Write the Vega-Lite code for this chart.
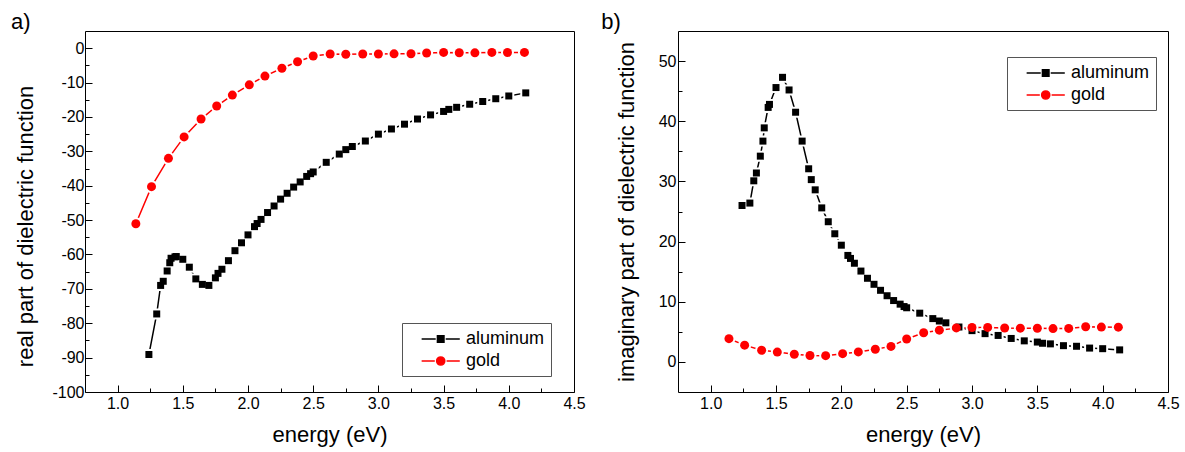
{
  "$schema": "https://vega.github.io/schema/vega-lite/v6.json",
  "padding": {"left": 10, "top": 10, "right": 5, "bottom": 4},
  "data": {"values": [
    {"material": "aluminum", "E": 1.24, "re": -89.1, "im": 26.0},
    {"material": "aluminum", "E": 1.30, "re": -77.3, "im": 26.4},
    {"material": "aluminum", "E": 1.33, "re": -69.0, "im": 30.1},
    {"material": "aluminum", "E": 1.35, "re": -67.8, "im": 31.4},
    {"material": "aluminum", "E": 1.38, "re": -64.8, "im": 34.2},
    {"material": "aluminum", "E": 1.40, "re": -62.4, "im": 36.7},
    {"material": "aluminum", "E": 1.41, "re": -61.1, "im": 38.9},
    {"material": "aluminum", "E": 1.44, "re": -60.7, "im": 42.3},
    {"material": "aluminum", "E": 1.45, "re": -60.6, "im": 42.8},
    {"material": "aluminum", "E": 1.50, "re": -61.4, "im": 45.6},
    {"material": "aluminum", "E": 1.55, "re": -63.7, "im": 47.3},
    {"material": "aluminum", "E": 1.60, "re": -67.1, "im": 45.2},
    {"material": "aluminum", "E": 1.65, "re": -68.7, "im": 41.5},
    {"material": "aluminum", "E": 1.70, "re": -69.0, "im": 36.7},
    {"material": "aluminum", "E": 1.75, "re": -66.8, "im": 32.1},
    {"material": "aluminum", "E": 1.77, "re": -65.5, "im": 30.3},
    {"material": "aluminum", "E": 1.80, "re": -64.3, "im": 28.6},
    {"material": "aluminum", "E": 1.85, "re": -61.8, "im": 25.6},
    {"material": "aluminum", "E": 1.90, "re": -58.9, "im": 23.3},
    {"material": "aluminum", "E": 1.95, "re": -56.6, "im": 21.3},
    {"material": "aluminum", "E": 2.00, "re": -54.3, "im": 19.4},
    {"material": "aluminum", "E": 2.05, "re": -51.9, "im": 17.7},
    {"material": "aluminum", "E": 2.07, "re": -51.0, "im": 17.2},
    {"material": "aluminum", "E": 2.10, "re": -49.8, "im": 16.4},
    {"material": "aluminum", "E": 2.15, "re": -47.8, "im": 15.1},
    {"material": "aluminum", "E": 2.20, "re": -45.9, "im": 13.9},
    {"material": "aluminum", "E": 2.25, "re": -43.9, "im": 12.9},
    {"material": "aluminum", "E": 2.30, "re": -42.2, "im": 11.9},
    {"material": "aluminum", "E": 2.35, "re": -40.4, "im": 11.0},
    {"material": "aluminum", "E": 2.40, "re": -38.9, "im": 10.2},
    {"material": "aluminum", "E": 2.45, "re": -37.3, "im": 9.6},
    {"material": "aluminum", "E": 2.48, "re": -36.5, "im": 9.2},
    {"material": "aluminum", "E": 2.50, "re": -36.0, "im": 9.0},
    {"material": "aluminum", "E": 2.60, "re": -33.2, "im": 8.1},
    {"material": "aluminum", "E": 2.70, "re": -30.8, "im": 7.2},
    {"material": "aluminum", "E": 2.75, "re": -29.5, "im": 6.8},
    {"material": "aluminum", "E": 2.80, "re": -28.6, "im": 6.5},
    {"material": "aluminum", "E": 2.90, "re": -27.0, "im": 5.8},
    {"material": "aluminum", "E": 3.00, "re": -25.0, "im": 5.2},
    {"material": "aluminum", "E": 3.10, "re": -23.5, "im": 4.7},
    {"material": "aluminum", "E": 3.20, "re": -22.1, "im": 4.4},
    {"material": "aluminum", "E": 3.30, "re": -20.6, "im": 3.9},
    {"material": "aluminum", "E": 3.40, "re": -19.4, "im": 3.5},
    {"material": "aluminum", "E": 3.50, "re": -18.4, "im": 3.3},
    {"material": "aluminum", "E": 3.54, "re": -17.8, "im": 3.1},
    {"material": "aluminum", "E": 3.60, "re": -17.2, "im": 3.0},
    {"material": "aluminum", "E": 3.70, "re": -16.3, "im": 2.7},
    {"material": "aluminum", "E": 3.80, "re": -15.5, "im": 2.6},
    {"material": "aluminum", "E": 3.90, "re": -14.7, "im": 2.3},
    {"material": "aluminum", "E": 4.00, "re": -13.9, "im": 2.2},
    {"material": "aluminum", "E": 4.13, "re": -13.0, "im": 2.0},
    {"material": "gold", "E": 1.14, "re": -51.05, "im": 3.86},
    {"material": "gold", "E": 1.26, "re": -40.27, "im": 2.79},
    {"material": "gold", "E": 1.39, "re": -32.04, "im": 1.93},
    {"material": "gold", "E": 1.51, "re": -25.81, "im": 1.63},
    {"material": "gold", "E": 1.64, "re": -20.61, "im": 1.27},
    {"material": "gold", "E": 1.76, "re": -16.82, "im": 1.07},
    {"material": "gold", "E": 1.88, "re": -13.65, "im": 1.04},
    {"material": "gold", "E": 2.01, "re": -10.66, "im": 1.37},
    {"material": "gold", "E": 2.13, "re": -8.11, "im": 1.66},
    {"material": "gold", "E": 2.26, "re": -5.84, "im": 2.11},
    {"material": "gold", "E": 2.38, "re": -3.95, "im": 2.58},
    {"material": "gold", "E": 2.50, "re": -2.28, "im": 3.81},
    {"material": "gold", "E": 2.63, "re": -1.70, "im": 4.84},
    {"material": "gold", "E": 2.75, "re": -1.76, "im": 5.28},
    {"material": "gold", "E": 2.88, "re": -1.69, "im": 5.65},
    {"material": "gold", "E": 3.00, "re": -1.70, "im": 5.72},
    {"material": "gold", "E": 3.12, "re": -1.65, "im": 5.74},
    {"material": "gold", "E": 3.25, "re": -1.61, "im": 5.64},
    {"material": "gold", "E": 3.37, "re": -1.40, "im": 5.61},
    {"material": "gold", "E": 3.50, "re": -1.23, "im": 5.60},
    {"material": "gold", "E": 3.62, "re": -1.31, "im": 5.54},
    {"material": "gold", "E": 3.74, "re": -1.36, "im": 5.57},
    {"material": "gold", "E": 3.87, "re": -1.23, "im": 5.85},
    {"material": "gold", "E": 3.99, "re": -1.24, "im": 5.79},
    {"material": "gold", "E": 4.12, "re": -1.23, "im": 5.78}
  ]},
  "spacing": 14,
  "resolve": {
    "scale": {"color": "independent"},
    "legend": {"color": "independent"}
  },
  "hconcat": [
    {
      "width": 489,
      "height": 361,
      "title": {"text": "a)", "anchor": "start", "frame": "bounds", "fontSize": 22, "fontWeight": "normal", "offset": -3, "dx": -4, "font": "Liberation Sans", "color": "#000"},
      "encoding": {
        "x": {
          "field": "E", "type": "quantitative",
          "scale": {"domain": [0.75, 4.5], "nice": false, "zero": false},
          "axis": {
            "title": "energy (eV)",
            "values": [1, 1.25, 1.5, 1.75, 2, 2.25, 2.5, 2.75, 3, 3.25, 3.5, 3.75, 4, 4.25, 4.5],
            "labelExpr": "datum.value % 0.5 ? '' : format(datum.value, '.1f')",
            "tickSize": {"condition": {"test": "datum.value % 0.5 !== 0", "value": -4}, "value": -7},
            "labelPadding": 10,
            "titlePadding": 10
          }
        },
        "y": {
          "field": "re", "type": "quantitative",
          "scale": {"domain": [-100, 5], "nice": false, "zero": false},
          "axis": {
            "title": "real part of dielectric function",
            "values": [-100, -95, -90, -85, -80, -75, -70, -65, -60, -55, -50, -45, -40, -35, -30, -25, -20, -15, -10, -5, 0],
            "labelExpr": "datum.value % 10 ? '' : '' + datum.value",
            "tickSize": {"condition": {"test": "datum.value % 10 !== 0", "value": -4}, "value": -7},
            "labelPadding": 8,
            "titlePadding": 14,
            "titleY": 195
          }
        },
        "color": {
          "field": "material", "type": "nominal",
          "scale": {"domain": ["aluminum", "gold"], "range": ["#000000", "#ff0000"]},
          "legend": {
            "title": null, "orient": "none", "legendX": 317, "legendY": 292,
            "fillColor": "white", "strokeColor": "#555", "padding": 6,
            "labelFontSize": 18, "labelFont": "Liberation Sans", "labelColor": "#000",
            "symbolSize": 330, "labelOffset": 38, "rowPadding": 3, "cornerRadius": 0,
            "encode": {"symbols": {"update": {
              "shape": {"signal": "datum.value === 'gold' ? 'M0.4,0H1.85M3.15,0H4.6M2.05,0A0.45,0.45 0 1,0 2.95,0A0.45,0.45 0 1,0 2.05,0Z' : 'M0.4,0H1.95M3.05,0H4.6M2.14,-0.36H2.86V0.36H2.14Z'"},
              "fill": {"signal": "datum.value === 'gold' ? '#ff0000' : '#000000'"},
              "stroke": {"signal": "datum.value === 'gold' ? '#ff0000' : '#000000'"},
              "strokeWidth": {"value": 1.5},
              "opacity": {"value": 1}
            }}}
          }
        }
      },
      "layer": [
        {"mark": {"type": "line", "strokeWidth": 1.5}},
        {
          "transform": [{"filter": "datum.material === 'aluminum'"}],
          "mark": {"type": "point", "filled": true, "shape": "square", "size": 49, "stroke": "white", "strokeWidth": 4, "opacity": 1},
          "encoding": {"color": {"value": "white"}}
        },
        {
          "transform": [{"filter": "datum.material === 'gold'"}],
          "mark": {"type": "point", "filled": true, "shape": "circle", "size": 81, "stroke": "white", "strokeWidth": 4, "opacity": 1},
          "encoding": {"color": {"value": "white"}}
        },
        {
          "transform": [{"filter": "datum.material === 'aluminum'"}],
          "mark": {"type": "point", "filled": true, "shape": "square", "size": 49, "opacity": 1}
        },
        {
          "transform": [{"filter": "datum.material === 'gold'"}],
          "mark": {"type": "point", "filled": true, "shape": "circle", "size": 81, "opacity": 1}
        }
      ]
    },
    {
      "width": 490,
      "height": 361,
      "title": {"text": "b)", "anchor": "start", "frame": "bounds", "fontSize": 22, "fontWeight": "normal", "offset": -3, "dx": -14, "font": "Liberation Sans", "color": "#000"},
      "encoding": {
        "x": {
          "field": "E", "type": "quantitative",
          "scale": {"domain": [0.75, 4.5], "nice": false, "zero": false},
          "axis": {
            "title": "energy (eV)",
            "values": [1, 1.25, 1.5, 1.75, 2, 2.25, 2.5, 2.75, 3, 3.25, 3.5, 3.75, 4, 4.25, 4.5],
            "labelExpr": "datum.value % 0.5 ? '' : format(datum.value, '.1f')",
            "tickSize": {"condition": {"test": "datum.value % 0.5 !== 0", "value": -4}, "value": -7},
            "labelPadding": 10,
            "titlePadding": 10
          }
        },
        "y": {
          "field": "im", "type": "quantitative",
          "scale": {"domain": [-5, 55], "nice": false, "zero": false},
          "axis": {
            "title": "imaginary part of dielectric function",
            "values": [0, 5, 10, 15, 20, 25, 30, 35, 40, 45, 50],
            "labelExpr": "datum.value % 10 ? '' : '' + datum.value",
            "tickSize": {"condition": {"test": "datum.value % 10 !== 0", "value": -4}, "value": -7},
            "labelPadding": 9,
            "titlePadding": 20
          }
        },
        "color": {
          "field": "material", "type": "nominal",
          "scale": {"domain": ["aluminum", "gold"], "range": ["#000000", "#ff0000"]},
          "legend": {
            "title": null, "orient": "none", "legendX": 329, "legendY": 26,
            "fillColor": "white", "strokeColor": "#555", "padding": 6,
            "labelFontSize": 18, "labelFont": "Liberation Sans", "labelColor": "#000",
            "symbolSize": 330, "labelOffset": 38, "rowPadding": 3, "cornerRadius": 0,
            "encode": {"symbols": {"update": {
              "shape": {"signal": "datum.value === 'gold' ? 'M0.4,0H1.85M3.15,0H4.6M2.05,0A0.45,0.45 0 1,0 2.95,0A0.45,0.45 0 1,0 2.05,0Z' : 'M0.4,0H1.95M3.05,0H4.6M2.14,-0.36H2.86V0.36H2.14Z'"},
              "fill": {"signal": "datum.value === 'gold' ? '#ff0000' : '#000000'"},
              "stroke": {"signal": "datum.value === 'gold' ? '#ff0000' : '#000000'"},
              "strokeWidth": {"value": 1.5},
              "opacity": {"value": 1}
            }}}
          }
        }
      },
      "layer": [
        {"mark": {"type": "line", "strokeWidth": 1.5}},
        {
          "transform": [{"filter": "datum.material === 'aluminum'"}],
          "mark": {"type": "point", "filled": true, "shape": "square", "size": 49, "stroke": "white", "strokeWidth": 4, "opacity": 1},
          "encoding": {"color": {"value": "white"}}
        },
        {
          "transform": [{"filter": "datum.material === 'gold'"}],
          "mark": {"type": "point", "filled": true, "shape": "circle", "size": 81, "stroke": "white", "strokeWidth": 4, "opacity": 1},
          "encoding": {"color": {"value": "white"}}
        },
        {
          "transform": [{"filter": "datum.material === 'aluminum'"}],
          "mark": {"type": "point", "filled": true, "shape": "square", "size": 49, "opacity": 1}
        },
        {
          "transform": [{"filter": "datum.material === 'gold'"}],
          "mark": {"type": "point", "filled": true, "shape": "circle", "size": 81, "opacity": 1}
        }
      ]
    }
  ],
  "config": {
    "font": "Liberation Sans",
    "view": {"stroke": "#000", "strokeWidth": 1},
    "axis": {
      "domain": false, "grid": false,
      "labelFontSize": 16, "titleFontSize": 22, "titleFontWeight": "normal",
      "labelFont": "Liberation Sans", "titleFont": "Liberation Sans",
      "labelColor": "#000", "titleColor": "#000", "tickColor": "#000",
      "labelOverlap": false, "labelFlush": false, "labelBound": false, "tickWidth": 1
    }
  }
}
